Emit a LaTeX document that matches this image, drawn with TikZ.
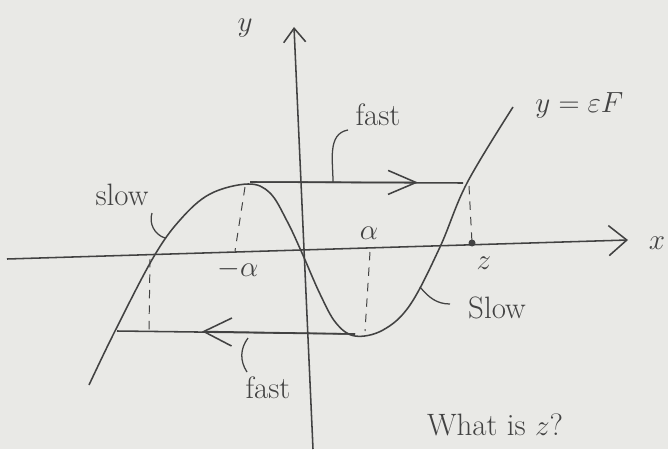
\documentclass[tikz,border=0pt]{standalone}
\usetikzlibrary{arrows.meta,calc}
\definecolor{papel}{RGB}{233,233,230}
\definecolor{tinta}{RGB}{66,66,66}

\begin{document}
\begin{tikzpicture}[x=0.025cm,y=0.025cm, color=tinta, line width=1.1pt,
    rotulo/.style={font=\fontsize{22}{26}\selectfont},
    guia/.style={line width=0.7pt, dash pattern=on 6pt off 5pt},
    puntero/.style={line width=0.9pt}]
\fill[papel] (0,0) rectangle (668,449);
\useasboundingbox (0,0) rectangle (668,449);

\coordinate (ejexI) at (7,190);
\coordinate (ejexD) at (628,209);
\coordinate (ejeyB) at (313,0);
\coordinate (ejeyA) at (294,422);
\draw[-{Straight Barb[length=4.5mm,width=7.5mm]}] (ejexI) -- (ejexD);
\draw[-{Straight Barb[length=3.5mm,width=5.5mm]}] (ejeyB) -- (ejeyA);
\node[rotulo] (etx) at (657,206) {$x$};
\node[rotulo] (ety) at (245,421) {$y$};

\coordinate (maximo) at (248,265);
\coordinate (minimo) at (355,113);
\coordinate (cortaI) at (150,190);
\coordinate (cortaD) at (467,266);
\coordinate (z) at (472,206);
\draw plot[smooth, tension=0.6] coordinates {(89,64) (115,118) (153,191) (180,229)
  (210,255) (maximo) (270,256) (287,228) (302,196) (320,155) (336,126) (minimo)
  (383,119) (410,144) (440,202) (cortaD) (513,342)};
\node[rotulo, anchor=west] (curva) at (530,344) {$y=\varepsilon F$};

\coordinate (arribaI) at (250,267);
\coordinate (arribaD) at (463,266);
\coordinate (abajoI) at (117,118);
\coordinate (abajoD) at (355,115);
\draw (arribaI) -- (arribaD);
\draw[-{Straight Barb[length=7mm,width=6mm]}] (arribaI) -- (418,266.5);
\draw (abajoD) -- (abajoI);
\draw[-{Straight Barb[length=7mm,width=7mm]}] (abajoD) -- (202,117.5);

\draw[guia] (245,262) -- (235,198);
\draw[guia] (cortaI) -- (149,119);
\draw[guia] (370,197) -- (365,118);
\draw[guia] (469,263) -- (z);
\fill (z) circle (3.5);

\node[rotulo] (menosalfa) at (238,180) {$-\alpha$};
\node[rotulo] (alfa) at (369,216) {$\alpha$};
\node[rotulo] (etz) at (484,186) {$z$};

\node[rotulo] (lentoI) at (122,254) {slow};
\node[rotulo] (rapidoA) at (378,334) {fast};
\node[rotulo] (lentoD) at (497,141) {Slow};
\node[rotulo] (rapidoB) at (268,61) {fast};
\node[rotulo] (pregunta) at (495,24) {What is $z$?};

\draw[puntero] (152,236) to[bend right=45] (165,211);
\draw[puntero] (348,319) to[out=190,in=90] (333,267);
\draw[puntero] (450,145) to[out=180,in=-50] (420,162);
\draw[puntero] (248,111) to[bend right=35] (247,77);
\end{tikzpicture}
\end{document}
